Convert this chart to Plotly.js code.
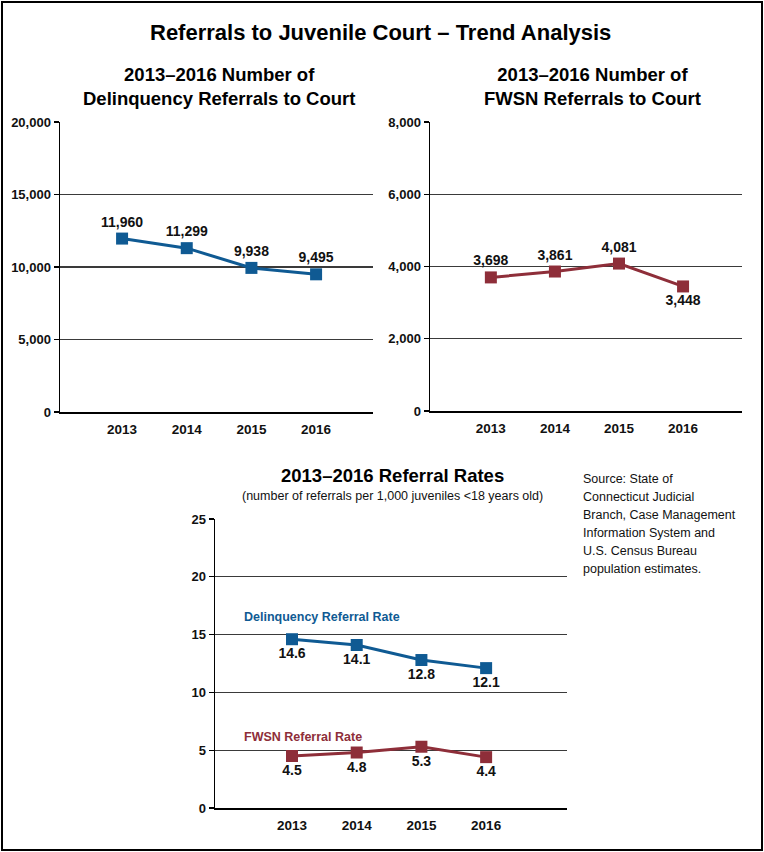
<!DOCTYPE html>
<html>
<head>
<meta charset="utf-8">
<script src="https://cdn.plot.ly/plotly-3.0.1.min.js"></script>
<style>html,body{margin:0;padding:0;background:#fff;}#chart{width:764px;height:852px;}</style>
</head>
<body>
<div id="chart"></div>
<script>
const years = ['2013', '2014', '2015', '2016'];
const delinquencyReferrals = [11960, 11299, 9938, 9495];
const fwsnReferrals = [3698, 3861, 4081, 3448];
const delinquencyRate = [14.6, 14.1, 12.8, 12.1];
const fwsnRate = [4.5, 4.8, 5.3, 4.4];
const leftTicks = [0, 5000, 10000, 15000, 20000];
const rightTicks = [0, 2000, 4000, 6000, 8000];
const rateTicks = [0, 5, 10, 15, 20, 25];
const sourceLines = ['Source: State of', 'Connecticut Judicial', 'Branch, Case Management',
  'Information System and', 'U.S. Census Bureau', 'population estimates.'];

const BLUE = '#0f5a93';
const RED = '#8e2e39';
const FONT = '"Liberation Sans Narrow", "Arial Narrow", "Liberation Sans", Arial, sans-serif';
const idx = years.map((_, i) => i);
const fmt = v => v.toLocaleString('en-US');

function lineTrace(y, color, xa, ya, labels, positions) {
  return {
    x: idx, y: y, xaxis: xa, yaxis: ya,
    type: 'scatter', mode: 'lines+markers+text',
    line: {color: color, width: 3},
    marker: {symbol: 'square', size: 12, color: color},
    text: labels, textposition: positions,
    textfont: {family: FONT, size: 14, color: '#111', weight: 'bold'},
    cliponaxis: false, hoverinfo: 'skip', showlegend: false
  };
}

const traces = [
  lineTrace(delinquencyReferrals, BLUE, 'x', 'y', delinquencyReferrals.map(fmt), 'top center'),
  lineTrace(fwsnReferrals, RED, 'x2', 'y2', fwsnReferrals.map(fmt), ['top center', 'top center', 'top center', 'bottom center']),
  lineTrace(delinquencyRate, BLUE, 'x3', 'y3', delinquencyRate.map(v => v.toFixed(1)), 'bottom center'),
  lineTrace(fwsnRate, RED, 'x3', 'y3', fwsnRate.map(v => v.toFixed(1)), 'bottom center')
];

const W = 764, H = 852;
const px = v => v / W;
const py = v => 1 - v / H;

function xAxis(d0, d1, r, anchor) {
  return {
    domain: [px(d0), px(d1)], range: r, anchor: anchor,
    tickmode: 'array', tickvals: idx, ticktext: years,
    showgrid: false, zeroline: false,
    showline: true, linecolor: '#000', linewidth: 1.5,
    ticks: '', ticklabelstandoff: 4,
    tickfont: {family: FONT, size: 13.5, color: '#111', weight: 'bold'},
    fixedrange: true
  };
}
function yAxis(d0, d1, r, tv, tt, anchor) {
  return {
    domain: [py(d1), py(d0)], range: r, anchor: anchor,
    tickmode: 'array', tickvals: tv, ticktext: tt,
    showgrid: true, gridcolor: '#3a3a3a', gridwidth: 1.3,
    zeroline: false,
    showline: true, linecolor: '#000', linewidth: 1.5,
    ticks: 'outside', ticklen: 5, tickcolor: '#000', tickwidth: 1.3,
    tickfont: {family: FONT, size: 13, color: '#111', weight: 'bold'},
    fixedrange: true
  };
}

const annotations = [
  {text: 'Referrals to Juvenile Court – Trend Analysis', xref: 'paper', yref: 'paper', x: px(380), y: py(33),
   xanchor: 'center', yanchor: 'middle', showarrow: false,
   font: {family: FONT, size: 22, color: '#000', weight: 'bold'}},
  {text: '2013–2016 Number of<br>Delinquency Referrals to Court', xref: 'paper', yref: 'paper', x: px(219), y: py(86),
   xanchor: 'center', yanchor: 'middle', showarrow: false,
   font: {family: FONT, size: 18.5, color: '#000', weight: 'bold'}},
  {text: '2013–2016 Number of<br>FWSN Referrals to Court', xref: 'paper', yref: 'paper', x: px(592), y: py(86),
   xanchor: 'center', yanchor: 'middle', showarrow: false,
   font: {family: FONT, size: 18.5, color: '#000', weight: 'bold'}},
  {text: '2013–2016 Referral Rates', xref: 'paper', yref: 'paper', x: px(392), y: py(475),
   xanchor: 'center', yanchor: 'middle', showarrow: false,
   font: {family: FONT, size: 18.5, color: '#000', weight: 'bold'}},
  {text: '(number of referrals per 1,000 juveniles <18 years old)', xref: 'paper', yref: 'paper', x: px(392), y: py(496),
   xanchor: 'center', yanchor: 'middle', showarrow: false,
   font: {family: FONT, size: 12.5, color: '#111'}},
  {text: 'Delinquency Referral Rate', xref: 'paper', yref: 'paper', x: px(242), y: py(617),
   xanchor: 'left', yanchor: 'middle', showarrow: false,
   font: {family: FONT, size: 12.5, color: BLUE, weight: 'bold'}},
  {text: 'FWSN Referral Rate', xref: 'paper', yref: 'paper', x: px(242), y: py(737),
   xanchor: 'left', yanchor: 'middle', showarrow: false,
   font: {family: FONT, size: 12.5, color: RED, weight: 'bold'}}
];
sourceLines.forEach((t, i) => {
  annotations.push({text: t, xref: 'paper', yref: 'paper', x: px(581), y: py(479 + 18 * i),
    xanchor: 'left', yanchor: 'middle', align: 'left', showarrow: false,
    font: {family: FONT, size: 12.5, color: '#111'}});
});

const layout = {
  width: W, height: H,
  margin: {l: 0, r: 0, t: 0, b: 0},
  paper_bgcolor: '#fff', plot_bgcolor: '#fff',
  showlegend: false,
  xaxis: xAxis(60, 373, [-0.96, 3.88], 'y'),
  yaxis: yAxis(122, 412, [0, 20000], leftTicks, leftTicks.map(fmt), 'x'),
  xaxis2: xAxis(430, 742, [-0.95, 3.92], 'y2'),
  yaxis2: yAxis(122, 411, [0, 8000], rightTicks, rightTicks.map(fmt), 'x2'),
  xaxis3: xAxis(215, 567, [-1.19, 4.25], 'y3'),
  yaxis3: yAxis(519, 808, [0, 25], rateTicks, rateTicks.map(String), 'x3'),
  shapes: [
    {type: 'rect', xref: 'paper', yref: 'paper', x0: px(2), x1: px(762), y0: py(850), y1: py(2),
     line: {color: '#000', width: 2}, fillcolor: 'rgba(0,0,0,0)'}
  ],
  annotations: annotations
};

Plotly.newPlot('chart', traces, layout, {displayModeBar: false, staticPlot: true});
</script>
</body>
</html>
